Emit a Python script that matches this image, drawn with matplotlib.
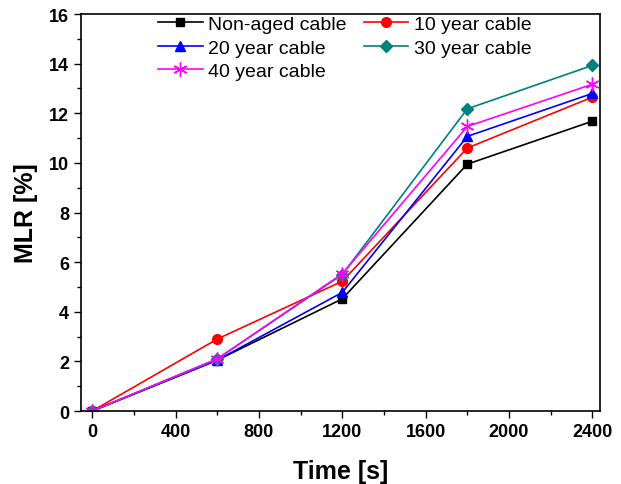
import matplotlib
matplotlib.use('Agg')
import matplotlib.pyplot as plt
from matplotlib.ticker import MultipleLocator

plt.rcParams['font.family'] = ['Liberation Sans', 'DejaVu Sans']

# Data
time = [0, 600, 1200, 1800, 2400]
non_aged = [0, 2.05, 4.52, 9.95, 11.68]
year10 = [0, 2.9, 5.23, 10.6, 12.65]
year20 = [0, 2.05, 4.78, 11.07, 12.8]
year30 = [0, 2.1, 5.5, 12.18, 13.93]
year40 = [0, 2.1, 5.53, 11.47, 13.17]

fig = plt.figure(figsize=(6.21, 4.85), dpi=100)
ax = fig.add_axes([0.130, 0.1505, 0.836, 0.8185])

l0, = ax.plot(time, non_aged, '-s', color='black', ms=6, lw=1.2, label='Non-aged cable')
l1, = ax.plot(time, year10, '-o', color='red', ms=7, lw=1.2, label='10 year cable')
l2, = ax.plot(time, year20, '-^', color='blue', ms=7, lw=1.2, label='20 year cable')
l3, = ax.plot(time, year30, '-D', color='#008080', ms=6, lw=1.2, label='30 year cable')
l4, = ax.plot(time, year40, '-', marker=(6, 2, 0), color='magenta', ms=10, lw=1.2,
              mew=1.0, label='40 year cable')

ax.set_xlim(-55, 2436)
ax.set_ylim(0, 16)
ax.xaxis.set_major_locator(MultipleLocator(400))
ax.xaxis.set_minor_locator(MultipleLocator(200))
ax.yaxis.set_major_locator(MultipleLocator(2))
ax.yaxis.set_minor_locator(MultipleLocator(1))
ax.tick_params(which='major', direction='out', length=5, width=1, labelsize=13)
ax.tick_params(which='minor', direction='out', length=3, width=1)
for lab in ax.get_xticklabels() + ax.get_yticklabels():
    lab.set_fontweight('bold')
for sp in ax.spines.values():
    sp.set_linewidth(1.2)

ax.set_xlabel('Time [s]', fontsize=18, fontweight='bold', labelpad=14)
ax.set_ylabel('MLR [%]', fontsize=18, fontweight='bold', labelpad=8)

# row-wise legend order
handles = [l0, l2, l4, l1, l3]
ax.legend(handles=handles, labels=[h.get_label() for h in handles], ncol=2,
          loc='upper left', bbox_to_anchor=(0.115, 1.04), frameon=False,
          fontsize=14, handlelength=2.3, handletextpad=0.3, columnspacing=0.85,
          labelspacing=0.3)

plt.savefig('out.png', dpi=100)
